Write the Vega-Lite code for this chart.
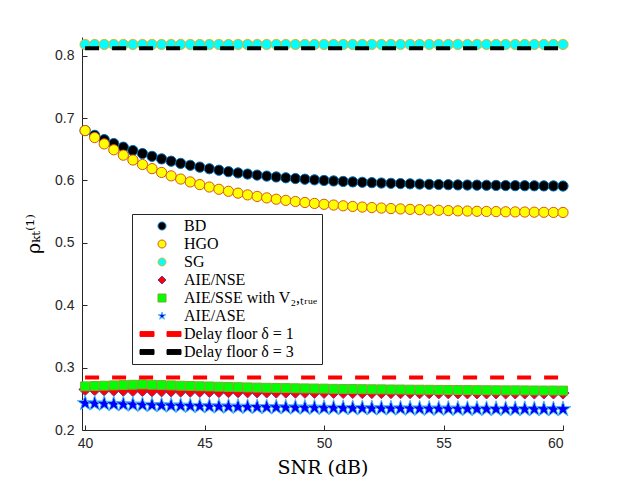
{
  "$schema": "https://vega.github.io/schema/vega-lite/v6.json",
  "width": 481,
  "height": 393,
  "autosize": "none",
  "padding": {"left": 82, "top": 37, "right": 60, "bottom": 54},
  "background": "white",
  "config": {
    "view": {"stroke": null},
    "axis": {
      "labelFont": "Liberation Sans",
      "labelFontSize": 14,
      "labelColor": "#262626",
      "titleFont": "DejaVu Serif",
      "titleFontSize": 19,
      "titleFontWeight": "normal",
      "titleColor": "#000000",
      "domainColor": "#262626",
      "tickColor": "#262626",
      "tickSize": -5,
      "grid": false
    },
    "legend": {
      "labelFont": "Liberation Serif",
      "labelFontSize": 16,
      "labelColor": "#000000",
      "strokeColor": "#262626",
      "fillColor": "white",
      "padding": 4,
      "symbolSize": 64,
      "symbolStrokeWidth": 1,
      "symbolOffset": 18,
      "labelOffset": 14,
      "rowPadding": 2
    }
  },
  "datasets": {
    "pts": [
      {"s":"BD","snr":40.0,"rho":0.6800},{"s":"BD","snr":40.4,"rho":0.6724},{"s":"BD","snr":40.8,"rho":0.6655},{"s":"BD","snr":41.2,"rho":0.6592},{"s":"BD","snr":41.6,"rho":0.6534},{"s":"BD","snr":42.0,"rho":0.6480},{"s":"BD","snr":42.4,"rho":0.6432},{"s":"BD","snr":42.8,"rho":0.6387},{"s":"BD","snr":43.2,"rho":0.6346},{"s":"BD","snr":43.6,"rho":0.6309},{"s":"BD","snr":44.0,"rho":0.6274},{"s":"BD","snr":44.4,"rho":0.6243},{"s":"BD","snr":44.8,"rho":0.6214},{"s":"BD","snr":45.2,"rho":0.6188},{"s":"BD","snr":45.6,"rho":0.6164},{"s":"BD","snr":46.0,"rho":0.6141},{"s":"BD","snr":46.4,"rho":0.6121},{"s":"BD","snr":46.8,"rho":0.6103},{"s":"BD","snr":47.2,"rho":0.6086},{"s":"BD","snr":47.6,"rho":0.6070},{"s":"BD","snr":48.0,"rho":0.6056},{"s":"BD","snr":48.4,"rho":0.6043},{"s":"BD","snr":48.8,"rho":0.6031},{"s":"BD","snr":49.2,"rho":0.6020},{"s":"BD","snr":49.6,"rho":0.6010},{"s":"BD","snr":50.0,"rho":0.6000},{"s":"BD","snr":50.4,"rho":0.5992},{"s":"BD","snr":50.8,"rho":0.5984},{"s":"BD","snr":51.2,"rho":0.5977},{"s":"BD","snr":51.6,"rho":0.5971},{"s":"BD","snr":52.0,"rho":0.5965},{"s":"BD","snr":52.4,"rho":0.5959},{"s":"BD","snr":52.8,"rho":0.5954},{"s":"BD","snr":53.2,"rho":0.5950},{"s":"BD","snr":53.6,"rho":0.5946},{"s":"BD","snr":54.0,"rho":0.5942},{"s":"BD","snr":54.4,"rho":0.5938},{"s":"BD","snr":54.8,"rho":0.5935},{"s":"BD","snr":55.2,"rho":0.5932},{"s":"BD","snr":55.6,"rho":0.5929},{"s":"BD","snr":56.0,"rho":0.5927},{"s":"BD","snr":56.4,"rho":0.5925},{"s":"BD","snr":56.8,"rho":0.5923},{"s":"BD","snr":57.2,"rho":0.5921},{"s":"BD","snr":57.6,"rho":0.5919},{"s":"BD","snr":58.0,"rho":0.5917},{"s":"BD","snr":58.4,"rho":0.5916},{"s":"BD","snr":58.8,"rho":0.5915},{"s":"BD","snr":59.2,"rho":0.5913},{"s":"BD","snr":59.6,"rho":0.5912},{"s":"BD","snr":60.0,"rho":0.5911},
      {"s":"HGO","snr":40.0,"rho":0.6800},{"s":"HGO","snr":40.4,"rho":0.6688},{"s":"HGO","snr":40.8,"rho":0.6586},{"s":"HGO","snr":41.2,"rho":0.6492},{"s":"HGO","snr":41.6,"rho":0.6406},{"s":"HGO","snr":42.0,"rho":0.6328},{"s":"HGO","snr":42.4,"rho":0.6256},{"s":"HGO","snr":42.8,"rho":0.6190},{"s":"HGO","snr":43.2,"rho":0.6129},{"s":"HGO","snr":43.6,"rho":0.6074},{"s":"HGO","snr":44.0,"rho":0.6023},{"s":"HGO","snr":44.4,"rho":0.5977},{"s":"HGO","snr":44.8,"rho":0.5934},{"s":"HGO","snr":45.2,"rho":0.5895},{"s":"HGO","snr":45.6,"rho":0.5859},{"s":"HGO","snr":46.0,"rho":0.5827},{"s":"HGO","snr":46.4,"rho":0.5797},{"s":"HGO","snr":46.8,"rho":0.5769},{"s":"HGO","snr":47.2,"rho":0.5744},{"s":"HGO","snr":47.6,"rho":0.5721},{"s":"HGO","snr":48.0,"rho":0.5700},{"s":"HGO","snr":48.4,"rho":0.5681},{"s":"HGO","snr":48.8,"rho":0.5663},{"s":"HGO","snr":49.2,"rho":0.5647},{"s":"HGO","snr":49.6,"rho":0.5632},{"s":"HGO","snr":50.0,"rho":0.5618},{"s":"HGO","snr":50.4,"rho":0.5606},{"s":"HGO","snr":50.8,"rho":0.5594},{"s":"HGO","snr":51.2,"rho":0.5584},{"s":"HGO","snr":51.6,"rho":0.5574},{"s":"HGO","snr":52.0,"rho":0.5566},{"s":"HGO","snr":52.4,"rho":0.5558},{"s":"HGO","snr":52.8,"rho":0.5550},{"s":"HGO","snr":53.2,"rho":0.5544},{"s":"HGO","snr":53.6,"rho":0.5537},{"s":"HGO","snr":54.0,"rho":0.5532},{"s":"HGO","snr":54.4,"rho":0.5527},{"s":"HGO","snr":54.8,"rho":0.5522},{"s":"HGO","snr":55.2,"rho":0.5517},{"s":"HGO","snr":55.6,"rho":0.5513},{"s":"HGO","snr":56.0,"rho":0.5510},{"s":"HGO","snr":56.4,"rho":0.5506},{"s":"HGO","snr":56.8,"rho":0.5503},{"s":"HGO","snr":57.2,"rho":0.5501},{"s":"HGO","snr":57.6,"rho":0.5498},{"s":"HGO","snr":58.0,"rho":0.5496},{"s":"HGO","snr":58.4,"rho":0.5494},{"s":"HGO","snr":58.8,"rho":0.5492},{"s":"HGO","snr":59.2,"rho":0.5490},{"s":"HGO","snr":59.6,"rho":0.5488},{"s":"HGO","snr":60.0,"rho":0.5487},
      {"s":"SG","snr":40.0,"rho":0.818},{"s":"SG","snr":40.4,"rho":0.818},{"s":"SG","snr":40.8,"rho":0.818},{"s":"SG","snr":41.2,"rho":0.818},{"s":"SG","snr":41.6,"rho":0.818},{"s":"SG","snr":42.0,"rho":0.818},{"s":"SG","snr":42.4,"rho":0.818},{"s":"SG","snr":42.8,"rho":0.818},{"s":"SG","snr":43.2,"rho":0.818},{"s":"SG","snr":43.6,"rho":0.818},{"s":"SG","snr":44.0,"rho":0.818},{"s":"SG","snr":44.4,"rho":0.818},{"s":"SG","snr":44.8,"rho":0.818},{"s":"SG","snr":45.2,"rho":0.818},{"s":"SG","snr":45.6,"rho":0.818},{"s":"SG","snr":46.0,"rho":0.818},{"s":"SG","snr":46.4,"rho":0.818},{"s":"SG","snr":46.8,"rho":0.818},{"s":"SG","snr":47.2,"rho":0.818},{"s":"SG","snr":47.6,"rho":0.818},{"s":"SG","snr":48.0,"rho":0.818},{"s":"SG","snr":48.4,"rho":0.818},{"s":"SG","snr":48.8,"rho":0.818},{"s":"SG","snr":49.2,"rho":0.818},{"s":"SG","snr":49.6,"rho":0.818},{"s":"SG","snr":50.0,"rho":0.818},{"s":"SG","snr":50.4,"rho":0.818},{"s":"SG","snr":50.8,"rho":0.818},{"s":"SG","snr":51.2,"rho":0.818},{"s":"SG","snr":51.6,"rho":0.818},{"s":"SG","snr":52.0,"rho":0.818},{"s":"SG","snr":52.4,"rho":0.818},{"s":"SG","snr":52.8,"rho":0.818},{"s":"SG","snr":53.2,"rho":0.818},{"s":"SG","snr":53.6,"rho":0.818},{"s":"SG","snr":54.0,"rho":0.818},{"s":"SG","snr":54.4,"rho":0.818},{"s":"SG","snr":54.8,"rho":0.818},{"s":"SG","snr":55.2,"rho":0.818},{"s":"SG","snr":55.6,"rho":0.818},{"s":"SG","snr":56.0,"rho":0.818},{"s":"SG","snr":56.4,"rho":0.818},{"s":"SG","snr":56.8,"rho":0.818},{"s":"SG","snr":57.2,"rho":0.818},{"s":"SG","snr":57.6,"rho":0.818},{"s":"SG","snr":58.0,"rho":0.818},{"s":"SG","snr":58.4,"rho":0.818},{"s":"SG","snr":58.8,"rho":0.818},{"s":"SG","snr":59.2,"rho":0.818},{"s":"SG","snr":59.6,"rho":0.818},{"s":"SG","snr":60.0,"rho":0.818},
      {"s":"AIE/NSE","snr":40.0,"rho":0.2650},{"s":"AIE/NSE","snr":40.4,"rho":0.2647},{"s":"AIE/NSE","snr":40.8,"rho":0.2644},{"s":"AIE/NSE","snr":41.2,"rho":0.2641},{"s":"AIE/NSE","snr":41.6,"rho":0.2638},{"s":"AIE/NSE","snr":42.0,"rho":0.2635},{"s":"AIE/NSE","snr":42.4,"rho":0.2633},{"s":"AIE/NSE","snr":42.8,"rho":0.2630},{"s":"AIE/NSE","snr":43.2,"rho":0.2628},{"s":"AIE/NSE","snr":43.6,"rho":0.2626},{"s":"AIE/NSE","snr":44.0,"rho":0.2624},{"s":"AIE/NSE","snr":44.4,"rho":0.2622},{"s":"AIE/NSE","snr":44.8,"rho":0.2620},{"s":"AIE/NSE","snr":45.2,"rho":0.2619},{"s":"AIE/NSE","snr":45.6,"rho":0.2617},{"s":"AIE/NSE","snr":46.0,"rho":0.2615},{"s":"AIE/NSE","snr":46.4,"rho":0.2614},{"s":"AIE/NSE","snr":46.8,"rho":0.2613},{"s":"AIE/NSE","snr":47.2,"rho":0.2611},{"s":"AIE/NSE","snr":47.6,"rho":0.2610},{"s":"AIE/NSE","snr":48.0,"rho":0.2609},{"s":"AIE/NSE","snr":48.4,"rho":0.2608},{"s":"AIE/NSE","snr":48.8,"rho":0.2607},{"s":"AIE/NSE","snr":49.2,"rho":0.2606},{"s":"AIE/NSE","snr":49.6,"rho":0.2605},{"s":"AIE/NSE","snr":50.0,"rho":0.2604},{"s":"AIE/NSE","snr":50.4,"rho":0.2604},{"s":"AIE/NSE","snr":50.8,"rho":0.2603},{"s":"AIE/NSE","snr":51.2,"rho":0.2602},{"s":"AIE/NSE","snr":51.6,"rho":0.2601},{"s":"AIE/NSE","snr":52.0,"rho":0.2601},{"s":"AIE/NSE","snr":52.4,"rho":0.2600},{"s":"AIE/NSE","snr":52.8,"rho":0.2600},{"s":"AIE/NSE","snr":53.2,"rho":0.2599},{"s":"AIE/NSE","snr":53.6,"rho":0.2599},{"s":"AIE/NSE","snr":54.0,"rho":0.2598},{"s":"AIE/NSE","snr":54.4,"rho":0.2598},{"s":"AIE/NSE","snr":54.8,"rho":0.2597},{"s":"AIE/NSE","snr":55.2,"rho":0.2597},{"s":"AIE/NSE","snr":55.6,"rho":0.2596},{"s":"AIE/NSE","snr":56.0,"rho":0.2596},{"s":"AIE/NSE","snr":56.4,"rho":0.2596},{"s":"AIE/NSE","snr":56.8,"rho":0.2595},{"s":"AIE/NSE","snr":57.2,"rho":0.2595},{"s":"AIE/NSE","snr":57.6,"rho":0.2595},{"s":"AIE/NSE","snr":58.0,"rho":0.2595},{"s":"AIE/NSE","snr":58.4,"rho":0.2594},{"s":"AIE/NSE","snr":58.8,"rho":0.2594},{"s":"AIE/NSE","snr":59.2,"rho":0.2594},{"s":"AIE/NSE","snr":59.6,"rho":0.2594},{"s":"AIE/NSE","snr":60.0,"rho":0.2593},
      {"s":"AIE/SSE with V₂,ₜᵣᵤₑ","snr":40.0,"rho":0.2700},{"s":"AIE/SSE with V₂,ₜᵣᵤₑ","snr":40.4,"rho":0.2705},{"s":"AIE/SSE with V₂,ₜᵣᵤₑ","snr":40.8,"rho":0.2710},{"s":"AIE/SSE with V₂,ₜᵣᵤₑ","snr":41.2,"rho":0.2715},{"s":"AIE/SSE with V₂,ₜᵣᵤₑ","snr":41.6,"rho":0.2720},{"s":"AIE/SSE with V₂,ₜᵣᵤₑ","snr":42.0,"rho":0.2725},{"s":"AIE/SSE with V₂,ₜᵣᵤₑ","snr":42.4,"rho":0.2730},{"s":"AIE/SSE with V₂,ₜᵣᵤₑ","snr":42.8,"rho":0.2725},{"s":"AIE/SSE with V₂,ₜᵣᵤₑ","snr":43.2,"rho":0.2720},{"s":"AIE/SSE with V₂,ₜᵣᵤₑ","snr":43.6,"rho":0.2715},{"s":"AIE/SSE with V₂,ₜᵣᵤₑ","snr":44.0,"rho":0.2710},{"s":"AIE/SSE with V₂,ₜᵣᵤₑ","snr":44.4,"rho":0.2706},{"s":"AIE/SSE with V₂,ₜᵣᵤₑ","snr":44.8,"rho":0.2701},{"s":"AIE/SSE with V₂,ₜᵣᵤₑ","snr":45.2,"rho":0.2698},{"s":"AIE/SSE with V₂,ₜᵣᵤₑ","snr":45.6,"rho":0.2694},{"s":"AIE/SSE with V₂,ₜᵣᵤₑ","snr":46.0,"rho":0.2690},{"s":"AIE/SSE with V₂,ₜᵣᵤₑ","snr":46.4,"rho":0.2687},{"s":"AIE/SSE with V₂,ₜᵣᵤₑ","snr":46.8,"rho":0.2683},{"s":"AIE/SSE with V₂,ₜᵣᵤₑ","snr":47.2,"rho":0.2680},{"s":"AIE/SSE with V₂,ₜᵣᵤₑ","snr":47.6,"rho":0.2677},{"s":"AIE/SSE with V₂,ₜᵣᵤₑ","snr":48.0,"rho":0.2675},{"s":"AIE/SSE with V₂,ₜᵣᵤₑ","snr":48.4,"rho":0.2672},{"s":"AIE/SSE with V₂,ₜᵣᵤₑ","snr":48.8,"rho":0.2669},{"s":"AIE/SSE with V₂,ₜᵣᵤₑ","snr":49.2,"rho":0.2667},{"s":"AIE/SSE with V₂,ₜᵣᵤₑ","snr":49.6,"rho":0.2665},{"s":"AIE/SSE with V₂,ₜᵣᵤₑ","snr":50.0,"rho":0.2663},{"s":"AIE/SSE with V₂,ₜᵣᵤₑ","snr":50.4,"rho":0.2660},{"s":"AIE/SSE with V₂,ₜᵣᵤₑ","snr":50.8,"rho":0.2658},{"s":"AIE/SSE with V₂,ₜᵣᵤₑ","snr":51.2,"rho":0.2657},{"s":"AIE/SSE with V₂,ₜᵣᵤₑ","snr":51.6,"rho":0.2655},{"s":"AIE/SSE with V₂,ₜᵣᵤₑ","snr":52.0,"rho":0.2653},{"s":"AIE/SSE with V₂,ₜᵣᵤₑ","snr":52.4,"rho":0.2652},{"s":"AIE/SSE with V₂,ₜᵣᵤₑ","snr":52.8,"rho":0.2650},{"s":"AIE/SSE with V₂,ₜᵣᵤₑ","snr":53.2,"rho":0.2649},{"s":"AIE/SSE with V₂,ₜᵣᵤₑ","snr":53.6,"rho":0.2647},{"s":"AIE/SSE with V₂,ₜᵣᵤₑ","snr":54.0,"rho":0.2646},{"s":"AIE/SSE with V₂,ₜᵣᵤₑ","snr":54.4,"rho":0.2645},{"s":"AIE/SSE with V₂,ₜᵣᵤₑ","snr":54.8,"rho":0.2643},{"s":"AIE/SSE with V₂,ₜᵣᵤₑ","snr":55.2,"rho":0.2642},{"s":"AIE/SSE with V₂,ₜᵣᵤₑ","snr":55.6,"rho":0.2641},{"s":"AIE/SSE with V₂,ₜᵣᵤₑ","snr":56.0,"rho":0.2640},{"s":"AIE/SSE with V₂,ₜᵣᵤₑ","snr":56.4,"rho":0.2639},{"s":"AIE/SSE with V₂,ₜᵣᵤₑ","snr":56.8,"rho":0.2638},{"s":"AIE/SSE with V₂,ₜᵣᵤₑ","snr":57.2,"rho":0.2637},{"s":"AIE/SSE with V₂,ₜᵣᵤₑ","snr":57.6,"rho":0.2636},{"s":"AIE/SSE with V₂,ₜᵣᵤₑ","snr":58.0,"rho":0.2636},{"s":"AIE/SSE with V₂,ₜᵣᵤₑ","snr":58.4,"rho":0.2635},{"s":"AIE/SSE with V₂,ₜᵣᵤₑ","snr":58.8,"rho":0.2634},{"s":"AIE/SSE with V₂,ₜᵣᵤₑ","snr":59.2,"rho":0.2633},{"s":"AIE/SSE with V₂,ₜᵣᵤₑ","snr":59.6,"rho":0.2633},{"s":"AIE/SSE with V₂,ₜᵣᵤₑ","snr":60.0,"rho":0.2632},
      {"s":"AIE/ASE","snr":40.0,"rho":0.2430},{"s":"AIE/ASE","snr":40.4,"rho":0.2425},{"s":"AIE/ASE","snr":40.8,"rho":0.2420},{"s":"AIE/ASE","snr":41.2,"rho":0.2415},{"s":"AIE/ASE","snr":41.6,"rho":0.2411},{"s":"AIE/ASE","snr":42.0,"rho":0.2407},{"s":"AIE/ASE","snr":42.4,"rho":0.2403},{"s":"AIE/ASE","snr":42.8,"rho":0.2399},{"s":"AIE/ASE","snr":43.2,"rho":0.2395},{"s":"AIE/ASE","snr":43.6,"rho":0.2392},{"s":"AIE/ASE","snr":44.0,"rho":0.2389},{"s":"AIE/ASE","snr":44.4,"rho":0.2386},{"s":"AIE/ASE","snr":44.8,"rho":0.2383},{"s":"AIE/ASE","snr":45.2,"rho":0.2380},{"s":"AIE/ASE","snr":45.6,"rho":0.2377},{"s":"AIE/ASE","snr":46.0,"rho":0.2375},{"s":"AIE/ASE","snr":46.4,"rho":0.2372},{"s":"AIE/ASE","snr":46.8,"rho":0.2370},{"s":"AIE/ASE","snr":47.2,"rho":0.2368},{"s":"AIE/ASE","snr":47.6,"rho":0.2366},{"s":"AIE/ASE","snr":48.0,"rho":0.2364},{"s":"AIE/ASE","snr":48.4,"rho":0.2362},{"s":"AIE/ASE","snr":48.8,"rho":0.2360},{"s":"AIE/ASE","snr":49.2,"rho":0.2358},{"s":"AIE/ASE","snr":49.6,"rho":0.2357},{"s":"AIE/ASE","snr":50.0,"rho":0.2355},{"s":"AIE/ASE","snr":50.4,"rho":0.2354},{"s":"AIE/ASE","snr":50.8,"rho":0.2352},{"s":"AIE/ASE","snr":51.2,"rho":0.2351},{"s":"AIE/ASE","snr":51.6,"rho":0.2350},{"s":"AIE/ASE","snr":52.0,"rho":0.2348},{"s":"AIE/ASE","snr":52.4,"rho":0.2347},{"s":"AIE/ASE","snr":52.8,"rho":0.2346},{"s":"AIE/ASE","snr":53.2,"rho":0.2345},{"s":"AIE/ASE","snr":53.6,"rho":0.2344},{"s":"AIE/ASE","snr":54.0,"rho":0.2343},{"s":"AIE/ASE","snr":54.4,"rho":0.2342},{"s":"AIE/ASE","snr":54.8,"rho":0.2342},{"s":"AIE/ASE","snr":55.2,"rho":0.2341},{"s":"AIE/ASE","snr":55.6,"rho":0.2340},{"s":"AIE/ASE","snr":56.0,"rho":0.2339},{"s":"AIE/ASE","snr":56.4,"rho":0.2339},{"s":"AIE/ASE","snr":56.8,"rho":0.2338},{"s":"AIE/ASE","snr":57.2,"rho":0.2337},{"s":"AIE/ASE","snr":57.6,"rho":0.2337},{"s":"AIE/ASE","snr":58.0,"rho":0.2336},{"s":"AIE/ASE","snr":58.4,"rho":0.2336},{"s":"AIE/ASE","snr":58.8,"rho":0.2335},{"s":"AIE/ASE","snr":59.2,"rho":0.2335},{"s":"AIE/ASE","snr":59.6,"rho":0.2334},{"s":"AIE/ASE","snr":60.0,"rho":0.2334}
    ],
    "floors": [
      {"s": "Delay floor δ = 1", "snr": 40, "rho": 0.284},
      {"s": "Delay floor δ = 1", "snr": 60, "rho": 0.284},
      {"s": "Delay floor δ = 3", "snr": 40, "rho": 0.812},
      {"s": "Delay floor δ = 3", "snr": 60, "rho": 0.812}
    ]
  },
  "encoding": {
    "x": {
      "field": "snr", "type": "quantitative", "title": "SNR (dB)",
      "scale": {"domain": [39.87, 60], "nice": false, "zero": false},
      "axis": {"values": [40, 45, 50, 55, 60], "labelPadding": 11, "titlePadding": 8}
    },
    "y": {
      "field": "rho", "type": "quantitative", "title": "ρₖₜ⁽¹⁾",
      "scale": {"domain": [0.2, 0.83], "nice": false, "zero": false},
      "axis": {"values": [0.2, 0.3, 0.4, 0.5, 0.6, 0.7, 0.8], "format": ".1f", "labelPadding": 13, "titlePadding": 11}
    }
  },
  "layer": [
    {
      "data": {"name": "pts"},
      "mark": {"type": "point", "filled": true, "opacity": 1, "strokeWidth": 1},
      "encoding": {
        "shape": {
          "field": "s", "type": "nominal",
          "scale": {
            "domain": ["BD", "HGO", "SG", "AIE/NSE", "AIE/SSE with V₂,ₜᵣᵤₑ", "AIE/ASE", "Delay floor δ = 1", "Delay floor δ = 3"],
            "range": [
              "M-5.5,0L-5.5,0M1,0A1,1,0,1,1,-1,0A1,1,0,1,1,1,0Z",
              "M-5.5,0L-5.5,0M1,0A1,1,0,1,1,-1,0A1,1,0,1,1,1,0Z",
              "M-5.5,0L-5.5,0M1,0A1,1,0,1,1,-1,0A1,1,0,1,1,1,0Z",
              "M-5.5,0L-5.5,0M0,-1L1,0L0,1L-1,0Z",
              "M-5.5,0L-5.5,0M-1,-1H1V1H-1Z",
              "M-5.5,0L-5.5,0M0,-1L0.225,-0.309L0.951,-0.309L0.363,0.118L0.588,0.809L0,0.382L-0.588,0.809L-0.363,0.118L-0.951,-0.309L-0.225,-0.309Z",
              "M-5.5,-0.6H-2V0.6H-5.5Z M1.25,-0.6H4.75V0.6H1.25Z",
              "M-5.5,-0.6H-2V0.6H-5.5Z M1.25,-0.6H4.75V0.6H1.25Z"]
          },
          "legend": {"title": null, "orient": "none", "legendX": 50, "legendY": 177}
        },
        "fill": {
          "field": "s", "type": "nominal",
          "scale": {
            "domain": ["BD", "HGO", "SG", "AIE/NSE", "AIE/SSE with V₂,ₜᵣᵤₑ", "AIE/ASE", "Delay floor δ = 1", "Delay floor δ = 3"],
            "range": ["#000000", "#FFFF00", "#00FFFF", "#FF0000", "#00FF00", "#0000FF", "#FF0000", "#000000"]
          },
          "legend": {"title": null, "orient": "none", "legendX": 50, "legendY": 177}
        },
        "stroke": {
          "field": "s", "type": "nominal",
          "scale": {
            "domain": ["BD", "HGO", "SG", "AIE/NSE", "AIE/SSE with V₂,ₜᵣᵤₑ", "AIE/ASE", "Delay floor δ = 1", "Delay floor δ = 3"],
            "range": ["#0072BD", "#D95319", "#EDB120", "#7E2F8E", "#77AC30", "#4DBEEE", "#FF0000", "#000000"]
          },
          "legend": {"title": null, "orient": "none", "legendX": 50, "legendY": 177}
        },
        "size": {
          "condition": [
            {"test": "datum.s === 'AIE/ASE'", "value": 270},
            {"test": "datum.s === 'AIE/NSE'", "value": 150},
            {"test": "datum.s === 'AIE/SSE with V₂,ₜᵣᵤₑ'", "value": 80}
          ],
          "value": 105
        }
      }
    },
    {
      "data": {"name": "floors"},
      "mark": {"type": "line", "strokeWidth": 4, "strokeDash": [14, 13], "strokeCap": "butt"},
      "encoding": {
        "detail": {"field": "s", "type": "nominal"},
        "stroke": {
          "condition": {"test": "datum.s === 'Delay floor δ = 1'", "value": "#FF0000"},
          "value": "#000000"
        }
      }
    }
  ]
}
